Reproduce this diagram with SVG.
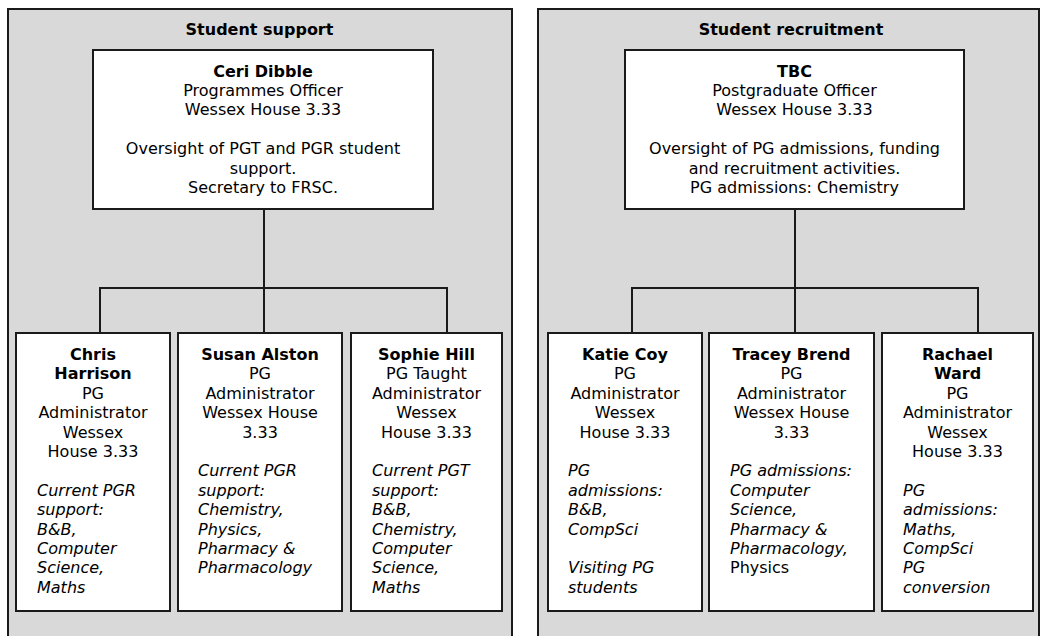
<svg xmlns="http://www.w3.org/2000/svg" width="1041" height="636" viewBox="0 0 1041 636">
<style>
.panel{fill:#d9d9d9;stroke:#1a1a1a;stroke-width:2}
.box{fill:#ffffff;stroke:#1a1a1a;stroke-width:2}
.conn{fill:none;stroke:#1a1a1a;stroke-width:2}
text{font-family:"DejaVu Sans",Verdana,sans-serif;font-size:16px;fill:#000}
.c{text-anchor:middle}
.b{font-weight:bold}
.i{font-style:italic}
</style>
<rect x="0" y="0" width="1041" height="636" fill="#ffffff"/>
<g id="panel-support">
<rect class="panel" x="8" y="9" width="504" height="640"/>
<text class="c b" x="259.5" y="35">Student support</text>
</g>
<g id="panel-recruitment">
<rect class="panel" x="538" y="9" width="501" height="640"/>
<text class="c b" x="791" y="35">Student recruitment</text>
</g>
<g id="connectors">
<path class="conn" d="M264 209V333M100 333V288H447V333"/>
<path class="conn" d="M795 209V333M632 333V288H978V333"/>
</g>
<g id="node-ceri">
<rect class="box" x="93" y="50" width="340" height="159"/>
<text class="c" x="263"><tspan class="b" x="263" y="76.5">Ceri Dibble</tspan><tspan x="263" y="95.9">Programmes Officer</tspan><tspan x="263" y="115.3">Wessex House 3.33</tspan><tspan x="263" y="154.1">Oversight of PGT and PGR student</tspan><tspan x="263" y="173.5">support.</tspan><tspan x="263" y="192.9">Secretary to FRSC.</tspan></text>
</g>
<g id="node-tbc">
<rect class="box" x="625" y="50" width="339" height="159"/>
<text class="c" x="794.5"><tspan class="b" x="794.5" y="76.5">TBC</tspan><tspan x="794.5" y="95.9">Postgraduate Officer</tspan><tspan x="794.5" y="115.3">Wessex House 3.33</tspan><tspan x="794.5" y="154.1">Oversight of PG admissions, funding</tspan><tspan x="794.5" y="173.5">and recruitment activities.</tspan><tspan x="794.5" y="192.9">PG admissions: Chemistry</tspan></text>
</g>
<g id="node-chris">
<rect class="box" x="16" y="333" width="154" height="278"/>
<text class="c"><tspan class="b" x="93" y="360">Chris</tspan><tspan class="b" x="93" y="379.4">Harrison</tspan><tspan x="93" y="398.8">PG</tspan><tspan x="93" y="418.2">Administrator</tspan><tspan x="93" y="437.6">Wessex</tspan><tspan x="93" y="457">House 3.33</tspan></text>
<text class="i"><tspan x="37" y="495.8">Current PGR</tspan><tspan x="37" y="515.2">support:</tspan><tspan x="37" y="534.6">B&amp;B,</tspan><tspan x="37" y="554">Computer</tspan><tspan x="37" y="573.4">Science,</tspan><tspan x="37" y="592.8">Maths</tspan></text>
</g>
<g id="node-susan">
<rect class="box" x="178" y="333" width="164" height="278"/>
<text class="c"><tspan class="b" x="260" y="360">Susan Alston</tspan><tspan x="260" y="379.4">PG</tspan><tspan x="260" y="398.8">Administrator</tspan><tspan x="260" y="418.2">Wessex House</tspan><tspan x="260" y="437.6">3.33</tspan></text>
<text class="i"><tspan x="198" y="476.4">Current PGR</tspan><tspan x="198" y="495.8">support:</tspan><tspan x="198" y="515.2">Chemistry,</tspan><tspan x="198" y="534.6">Physics,</tspan><tspan x="198" y="554">Pharmacy &amp;</tspan><tspan x="198" y="573.4">Pharmacology</tspan></text>
</g>
<g id="node-sophie">
<rect class="box" x="351" y="333" width="151" height="278"/>
<text class="c"><tspan class="b" x="426.5" y="360">Sophie Hill</tspan><tspan x="426.5" y="379.4">PG Taught</tspan><tspan x="426.5" y="398.8">Administrator</tspan><tspan x="426.5" y="418.2">Wessex</tspan><tspan x="426.5" y="437.6">House 3.33</tspan></text>
<text class="i"><tspan x="372" y="476.4">Current PGT</tspan><tspan x="372" y="495.8">support:</tspan><tspan x="372" y="515.2">B&amp;B,</tspan><tspan x="372" y="534.6">Chemistry,</tspan><tspan x="372" y="554">Computer</tspan><tspan x="372" y="573.4">Science,</tspan><tspan x="372" y="592.8">Maths</tspan></text>
</g>
<g id="node-katie">
<rect class="box" x="548" y="333" width="154" height="278"/>
<text class="c"><tspan class="b" x="625" y="360">Katie Coy</tspan><tspan x="625" y="379.4">PG</tspan><tspan x="625" y="398.8">Administrator</tspan><tspan x="625" y="418.2">Wessex</tspan><tspan x="625" y="437.6">House 3.33</tspan></text>
<text class="i"><tspan x="568" y="476.4">PG</tspan><tspan x="568" y="495.8">admissions:</tspan><tspan x="568" y="515.2">B&amp;B,</tspan><tspan x="568" y="534.6">CompSci</tspan><tspan x="568" y="573.4">Visiting PG</tspan><tspan x="568" y="592.8">students</tspan></text>
</g>
<g id="node-tracey">
<rect class="box" x="709" y="333" width="165" height="278"/>
<text class="c"><tspan class="b" x="791.5" y="360">Tracey Brend</tspan><tspan x="791.5" y="379.4">PG</tspan><tspan x="791.5" y="398.8">Administrator</tspan><tspan x="791.5" y="418.2">Wessex House</tspan><tspan x="791.5" y="437.6">3.33</tspan></text>
<text class="i"><tspan x="730" y="476.4">PG admissions:</tspan><tspan x="730" y="495.8">Computer</tspan><tspan x="730" y="515.2">Science,</tspan><tspan x="730" y="534.6">Pharmacy &amp;</tspan><tspan x="730" y="554">Pharmacology,</tspan></text>
<text x="730" y="573.4">Physics</text>
</g>
<g id="node-rachael">
<rect class="box" x="882" y="333" width="151" height="278"/>
<text class="c"><tspan class="b" x="957.5" y="360">Rachael</tspan><tspan class="b" x="957.5" y="379.4">Ward</tspan><tspan x="957.5" y="398.8">PG</tspan><tspan x="957.5" y="418.2">Administrator</tspan><tspan x="957.5" y="437.6">Wessex</tspan><tspan x="957.5" y="457">House 3.33</tspan></text>
<text class="i"><tspan x="903" y="495.8">PG</tspan><tspan x="903" y="515.2">admissions:</tspan><tspan x="903" y="534.6">Maths,</tspan><tspan x="903" y="554">CompSci</tspan><tspan x="903" y="573.4">PG</tspan><tspan x="903" y="592.8">conversion</tspan></text>
</g>
</svg>
